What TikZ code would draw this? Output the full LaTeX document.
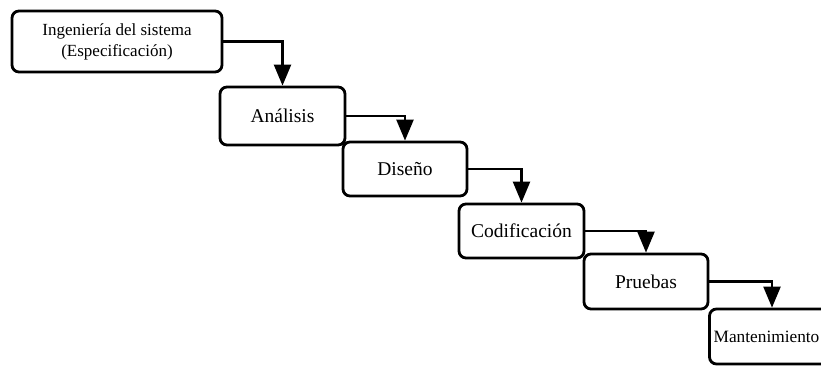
\documentclass[tikz,border=0pt]{standalone}
\usepackage{fontspec}
\setmainfont{Liberation Serif}
\usetikzlibrary{arrows.meta}
\begin{document}
\begin{tikzpicture}[x=1pt,y=-1pt,
  stage/.style={draw, line width=2.8pt, rounded corners=7pt, fill=white,
    inner sep=0pt, align=center, font=\fontsize{19.5}{23}\selectfont},
  flow/.style={line width=2.3pt, -{Triangle[length=21pt,width=17pt]}}]
\useasboundingbox (0,0) rectangle (821,365);
% process stages, top-left to bottom-right
\node[stage, minimum width=210pt, minimum height=61pt, font=\fontsize{17}{21}\selectfont] (ing) at (117,41.5)
  {Ingeniería del sistema\\(Especificación)};
\node[stage, minimum width=125pt, minimum height=58pt] (ana) at (282.5,116) {Análisis};
\node[stage, minimum width=124pt, minimum height=54pt] (dis) at (405,169) {Diseño};
\node[stage, minimum width=125pt, minimum height=54pt] (cod) at (521.5,231) {Codificación};
\node[stage, minimum width=124pt, minimum height=55pt] (pru) at (646,281.5) {Pruebas};
\node[stage, minimum width=125pt, minimum height=55pt, text depth=0pt,
  font=\fontsize{17.3}{21}\selectfont] (man) at (772,336.5)
  {\hspace*{-11pt}Mantenimiento};
% stage-to-stage flow
\draw[flow] (ing.east) -| (ana.north);
\draw[flow] (ana.east) -| (dis.north);
\draw[flow] (dis.east) -| (cod.north);
\draw[flow] (cod.east) -| (pru.north);
\draw[flow] (pru.east) -| (man.north);
\end{tikzpicture}
\end{document}
